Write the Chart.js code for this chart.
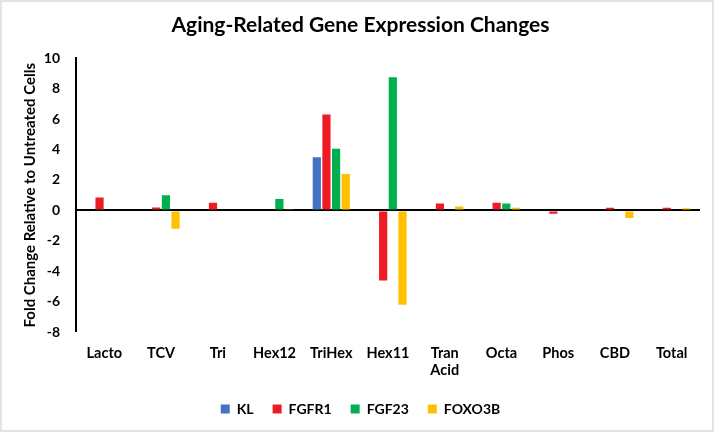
<!DOCTYPE html>
<html>
<head>
<meta charset="utf-8">
<script src="https://cdn.jsdelivr.net/npm/chart.js@4.4.1/dist/chart.umd.min.js"></script>
<style>
  html, body { margin: 0; padding: 0; background: #fff; }
  #wrap { width: 714px; height: 432px; box-sizing: border-box; border: 2px solid #e3e3e3; background: #fff; }
</style>
</head>
<body>
<div id="wrap"><canvas id="chart" width="710" height="428"></canvas></div>
<script>
// categories and values
const categories = ["Lacto", "TCV", "Tri", "Hex12", "TriHex", "Hex11", ["Tran", "Acid"], "Octa", "Phos", "CBD", "Total"];
const kl     = [0, 0, 0, 0, 3.5, 0, 0, 0, 0, 0, 0];
const fgfr1  = [0.85, 0.2, 0.5, 0, 6.3, -4.6, 0.45, 0.5, -0.22, 0.18, 0.18];
const fgf23  = [0, 1.0, 0, 0.75, 4.05, 8.75, 0, 0.45, 0, 0, 0];
const foxo3b = [0, -1.2, 0, 0.08, 2.4, -6.2, 0.26, 0.18, 0, -0.5, 0.15];
const yTicks = [-8, -6, -4, -2, 0, 2, 4, 6, 8, 10];

const fontName = "Lato, 'Open Sans', sans-serif";

function series(label, data, color) {
  return {
    label: label,
    data: data,
    backgroundColor: color,
    borderWidth: 0,
    barPercentage: 0.85,
    categoryPercentage: 0.68
  };
}

new Chart(document.getElementById("chart"), {
  type: "bar",
  data: {
    labels: categories,
    datasets: [
      series("KL", kl, "#4472C4"),
      series("FGFR1", fgfr1, "#ED1C24"),
      series("FGF23", fgf23, "#00B050"),
      series("FOXO3B", foxo3b, "#FFC000")
    ]
  },
  options: {
    responsive: false,
    animation: false,
    layout: { padding: { left: 19, right: 12, top: 0, bottom: 4 } },
    plugins: {
      title: {
        display: true,
        text: "Aging-Related Gene Expression Changes",
        color: "#000",
        font: { family: fontName, size: 21, weight: "bold" },
        padding: { top: 11, bottom: 20 }
      },
      legend: {
        position: "bottom",
        labels: {
          color: "#000",
          boxWidth: 9,
          boxHeight: 9,
          padding: 19,
          font: { family: fontName, size: 14, weight: "bold" }
        }
      },
      tooltip: { enabled: false }
    },
    scales: {
      x: {
        grid: { display: false },
        border: { display: false },
        ticks: {
          color: "#000",
          padding: 4,
          maxRotation: 0,
          autoSkip: false,
          font: { family: fontName, size: 14.5, weight: "bold" }
        }
      },
      y: {
        min: -8,
        max: 10,
        afterBuildTicks: axis => { axis.ticks = yTicks.map(v => ({ value: v })); },
        afterFit: axis => { axis.width = 55; },
        grid: {
          drawTicks: false,
          color: ctx => ctx.tick && ctx.tick.value === 0 ? "#000" : "rgba(0,0,0,0)",
          lineWidth: ctx => ctx.tick && ctx.tick.value === 0 ? 2 : 0
        },
        border: { display: true, color: "#000", width: 2 },
        ticks: {
          color: "#000",
          padding: 16,
          font: { family: fontName, size: 14, weight: "bold" }
        },
        title: {
          display: true,
          text: "Fold Change Relative to Untreated Cells",
          color: "#000",
          padding: { top: 0, bottom: 4 },
          font: { family: fontName, size: 15, weight: "bold" }
        }
      }
    }
  }
});
</script>
</body>
</html>
